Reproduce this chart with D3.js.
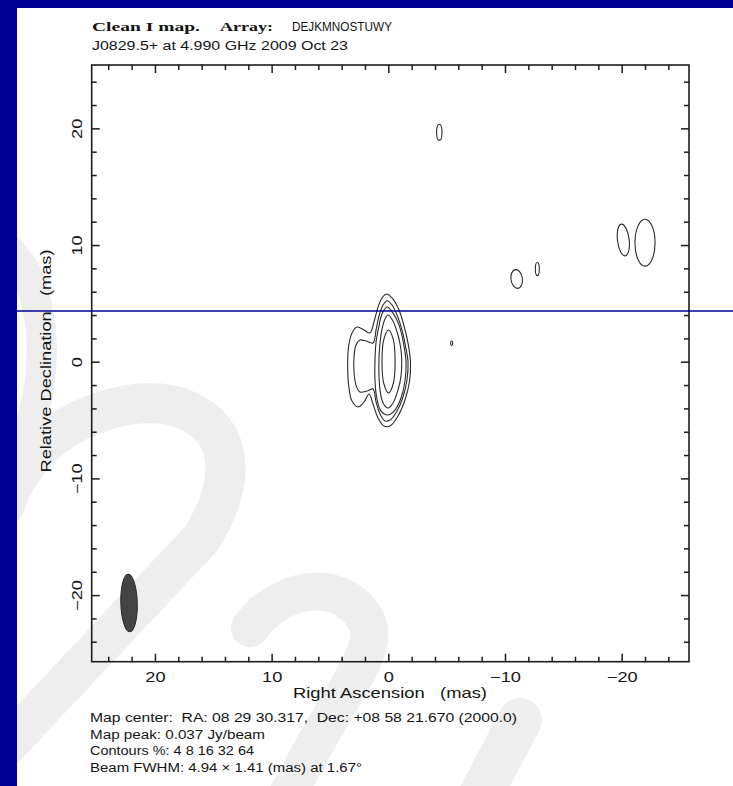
<!DOCTYPE html>
<html>
<head>
<meta charset="utf-8">
<script src="https://cdn.jsdelivr.net/npm/d3@7"></script>
<style>
  html, body { margin: 0; padding: 0; background: #ffffff; }
  svg { display: block; }
</style>
</head>
<body>
<svg id="chart" width="733" height="786"></svg>
<script>
// ---------------------------------------------------------------
// Clean I map of J0829.5+ at 4.990 GHz (2009 Oct 23)
// Offsets are in mas: RA increases to the left, Dec upward.
// ---------------------------------------------------------------

// Contour levels (% of map peak)
const contourLevels = [4, 8, 16, 32, 64];

// Core contour outlines as [RA offset, Dec offset] vertices (mas)
const contour4 = [
  [0.14, 5.80], [-0.40, 5.37], [-0.92, 4.43], [-1.35, 3.06], [-1.69, 1.60],
  [-1.90, -0.03], [-1.82, -1.65], [-1.43, -3.28], [-0.83, -4.65], [-0.15, -5.51],
  [0.37, -5.51], [0.88, -4.82], [1.31, -3.62], [1.65, -2.77], [2.08, -3.45],
  [2.60, -3.88], [3.11, -3.37], [3.37, -2.25], [3.48, -0.45], [3.41, 1.26],
  [3.11, 2.46], [2.68, 2.97], [2.08, 2.72], [1.57, 2.46], [1.23, 3.40],
  [0.88, 4.69], [0.54, 5.46]
];
const contour8 = [
  [0.11, 5.23], [-0.32, 4.86], [-0.75, 4.00], [-1.17, 2.72], [-1.47, 1.35],
  [-1.69, -0.03], [-1.60, -1.57], [-1.26, -3.02], [-0.75, -4.22], [-0.15, -5.00],
  [0.28, -5.08], [0.71, -4.48], [1.05, -3.45], [1.31, -2.34], [1.83, -2.51],
  [2.43, -2.60], [2.77, -2.00], [2.94, -0.88], [2.94, 0.40], [2.77, 1.43],
  [2.43, 1.86], [1.91, 1.77], [1.31, 1.60], [1.05, 2.72], [0.80, 3.92],
  [0.45, 4.86]
];
const contour16 = [
  [0.11, 4.69], [-0.40, 4.17], [-0.92, 3.14], [-1.30, 1.60], [-1.52, -0.03],
  [-1.43, -1.65], [-1.09, -3.11], [-0.57, -4.14], [0.03, -4.57], [0.63, -4.22],
  [0.97, -3.20], [1.14, -1.65], [1.14, 0.15], [1.05, 1.69], [0.80, 3.06],
  [0.54, 4.09]
];
const contour32 = [
  [0.03, 4.00], [-0.40, 3.49], [-0.83, 2.29], [-1.09, 1.00], [-1.15, -0.03],
  [-1.09, -1.23], [-0.83, -2.43], [-0.40, -3.54], [0.03, -3.97], [0.45, -3.54],
  [0.71, -2.43], [0.80, -1.14], [0.80, 0.32], [0.71, 1.60], [0.54, 2.80],
  [0.28, 3.66]
];
const contour64 = [
  [-0.02, 2.72], [-0.42, 1.93], [-0.58, 0.02], [-0.42, -1.89],
  [-0.02, -2.68], [0.38, -1.89], [0.54, 0.02], [0.38, 1.93]
];
const coreContours = [contour4, contour8, contour16, contour32, contour64];

// Compact jet features (lowest contour): position, half-axes and PA
const featureRA   = [-5.43, -4.37, -11.00, -12.77, -20.14, -22.00];
const featureDec  = [1.58, 19.66, 7.09, 7.94, 10.43, 10.20];
const featureMaj  = [0.20, 0.69, 0.81, 0.56, 1.37, 2.01];
const featureMin  = [0.09, 0.23, 0.49, 0.17, 0.50, 0.86];
const featurePA   = [0, 0, 8, 0, 7, 0];

// Restoring beam (FWHM, mas) and where it is drawn
const beamMajor = 4.94;
const beamMinor = 1.41;
const beamPA = 1.67;
const beamRA = 22.22;
const beamDec = -20.68;

// Axis ticks (mas)
const majorTicks = [20, 10, 0, -10, -20];
const minorTicks = [-24, -22, -18, -16, -14, -12, -8, -6, -4, -2,
                    2, 4, 6, 8, 12, 14, 16, 18, 22, 24];

// Header and footer text
const titleBold = "Clean I map.";
const titleArrayLabel = "Array:";
const titleArray = "DEJKMNOSTUWY";
const titleSource = "J0829.5+ at 4.990 GHz 2009 Oct 23";
const notes = [
  "Map center:  RA: 08 29 30.317,  Dec: +08 58 21.670 (2000.0)",
  "Map peak: 0.037 Jy/beam",
  "Contours %: 4 8 16 32 64",
  "Beam FWHM: 4.94 \u00d7 1.41 (mas) at 1.67\u00b0"
];

// ---------------------------------------------------------------
const W = 733, H = 786;
const panel = { x: 17, y: 8 };
const plot = { left: 91.7, right: 689, top: 65, bottom: 661.7 };
const blue = "#000096";
const ink = "#1c1c1c";
const SANS = "'Liberation Sans', Arial, Helvetica, sans-serif";
const SERIF = "'Liberation Serif', 'Times New Roman', serif";

const svg = d3.select("#chart");

// Slide background: white panel inside a blue frame
svg.append("defs").append("clipPath").attr("id", "panelClip")
  .append("rect").attr("x", panel.x).attr("y", panel.y)
  .attr("width", W - panel.x).attr("height", H - panel.y);
svg.append("rect").attr("x", 0).attr("y", 0).attr("width", W).attr("height", panel.y)
  .style("fill", blue);
svg.append("rect").attr("x", 0).attr("y", 0).attr("width", panel.x).attr("height", H)
  .style("fill", blue);

// Faint background watermark strokes, kept inside the white panel
const wmPaths = [
  { d: "M 4,246 C 52,282 56,400 6,478", w: 30 },
  { d: "M 5,505 C 30,425 120,395 170,405 C 235,420 240,480 200,540 L -5,758", w: 40 },
  { d: "M 250,628 C 285,580 350,580 368,625 C 378,655 335,700 285,800", w: 38 },
  { d: "M 478,800 L 520,720", w: 44 }
];
svg.append("g").attr("clip-path", "url(#panelClip)")
  .selectAll("path")
  .data(wmPaths)
  .join("path")
  .attr("d", d => d.d)
  .style("fill", "none")
  .style("stroke", "#eeeeee")
  .style("stroke-width", d => d.w + "px")
  .style("stroke-linecap", "round");

// Scales (equal mas per pixel on both axes)
const x = d3.scaleLinear().domain([25.42, -25.77]).range([plot.left, plot.right]);
const y = d3.scaleLinear().domain([-25.71, 25.43]).range([plot.bottom, plot.top]);

// Axes with inward ticks on all four sides
const fmt = d3.format("d");
function drawAxis(axis, tx, ty, values, size, labelled) {
  const g = svg.append("g").attr("transform", `translate(${tx},${ty})`)
    .call(axis.tickValues(values).tickSizeInner(-size).tickSizeOuter(0)
              .tickFormat(labelled ? fmt : ""));
  g.select(".domain").remove();
  g.selectAll(".tick line").attr("stroke", ink).attr("stroke-width", 1.5);
  return g;
}
const gB = drawAxis(d3.axisBottom(x), 0, plot.bottom, majorTicks, 8, true);
drawAxis(d3.axisBottom(x), 0, plot.bottom, minorTicks, 5, false);
drawAxis(d3.axisTop(x), 0, plot.top, majorTicks, 8, false);
drawAxis(d3.axisTop(x), 0, plot.top, minorTicks, 5, false);
const gL = drawAxis(d3.axisLeft(y), plot.left, 0, majorTicks, 8, true);
drawAxis(d3.axisLeft(y), plot.left, 0, minorTicks, 5, false);
drawAxis(d3.axisRight(y), plot.right, 0, majorTicks, 8, false);
drawAxis(d3.axisRight(y), plot.right, 0, minorTicks, 5, false);

gB.selectAll(".tick text")
  .attr("y", null).attr("dy", null)
  .attr("text-anchor", "middle")
  .attr("transform", "translate(0,20.5) scale(1.3,1)")
  .style("font-family", SANS).style("font-size", "14px").style("fill", "#161616");
gL.selectAll(".tick text")
  .attr("x", null).attr("dy", null)
  .attr("text-anchor", "middle")
  .attr("transform", "translate(-9.5,0) rotate(-90) scale(1.3,1)")
  .style("font-family", SANS).style("font-size", "14px").style("fill", "#161616");

// Plot frame
svg.append("rect")
  .attr("x", plot.left).attr("y", plot.top)
  .attr("width", plot.right - plot.left).attr("height", plot.bottom - plot.top)
  .style("fill", "none").style("stroke", ink).style("stroke-width", "1.6px");

// Text helper for fixed-width strings
function label(parent, str, xPos, yPos, opts) {
  const t = parent.append("text")
    .attr("x", xPos).attr("y", yPos)
    .style("font-family", opts.family || SANS)
    .style("font-size", (opts.size || 12) + "px")
    .style("font-weight", opts.weight || "normal")
    .style("fill", "#141414")
    .style("white-space", "pre")
    .text(str);
  if (opts.anchor) t.attr("text-anchor", opts.anchor);
  if (opts.len) t.attr("textLength", opts.len).attr("lengthAdjust", "spacingAndGlyphs");
  if (opts.transform) t.attr("transform", opts.transform);
  return t;
}

// Axis titles
label(svg, "Right Ascension   (mas)", 390, 698, { size: 15, len: 194, anchor: "middle" });
label(svg, "Relative Declination   (mas)", 0, 0,
      { size: 15, len: 223, anchor: "middle", transform: "translate(51,361) rotate(-90)" });

// Core contours
const outline = d3.line()
  .x(d => x(d[0])).y(d => y(d[1]))
  .curve(d3.curveCatmullRomClosed.alpha(0.5));
svg.append("g").selectAll("path")
  .data(coreContours)
  .join("path")
  .attr("d", outline)
  .style("fill", "none").style("stroke", "#2a2a2a").style("stroke-width", "1.1px");

// Jet features
const features = featureRA.map((ra, i) => ({
  ra, dec: featureDec[i], maj: featureMaj[i], min: featureMin[i], pa: featurePA[i]
}));
const pxPerMas = Math.abs(x(1) - x(0));
svg.append("g").selectAll("ellipse")
  .data(features)
  .join("ellipse")
  .attr("cx", 0).attr("cy", 0)
  .attr("rx", d => d.min * pxPerMas)
  .attr("ry", d => d.maj * pxPerMas)
  .attr("transform", d => `translate(${x(d.ra)},${y(d.dec)}) rotate(${-d.pa})`)
  .style("fill", "none").style("stroke", "#2a2a2a").style("stroke-width", "1.1px");

// Restoring beam
svg.append("ellipse")
  .attr("cx", 0).attr("cy", 0)
  .attr("rx", beamMinor / 2 * pxPerMas)
  .attr("ry", beamMajor / 2 * pxPerMas)
  .attr("transform", `translate(${x(beamRA)},${y(beamDec)}) rotate(${-beamPA})`)
  .style("fill", "#444444").style("stroke", "#2a2a2a").style("stroke-width", "1px");

// Header
label(svg, titleBold, 92, 31, { family: SERIF, weight: "bold", size: 13.5, len: 108 });
label(svg, titleArrayLabel, 220, 31, { family: SERIF, weight: "bold", size: 13.5, len: 53 });
label(svg, titleArray, 292, 31, { size: 12, len: 100 });
label(svg, titleSource, 92, 50, { size: 12.5, len: 256 });

// Footer notes
const noteWidths = [427, 175, 164, 272];
const gNotes = svg.append("g");
notes.forEach((str, i) => {
  label(gNotes, str, 90, 722 + i * 16.6, { size: 12, len: noteWidths[i] });
});

// Slide rule line across the page
svg.append("line")
  .attr("x1", panel.x).attr("x2", W).attr("y1", 311).attr("y2", 311)
  .style("stroke", blue).style("stroke-width", "1.3px");
</script>
</body>
</html>
